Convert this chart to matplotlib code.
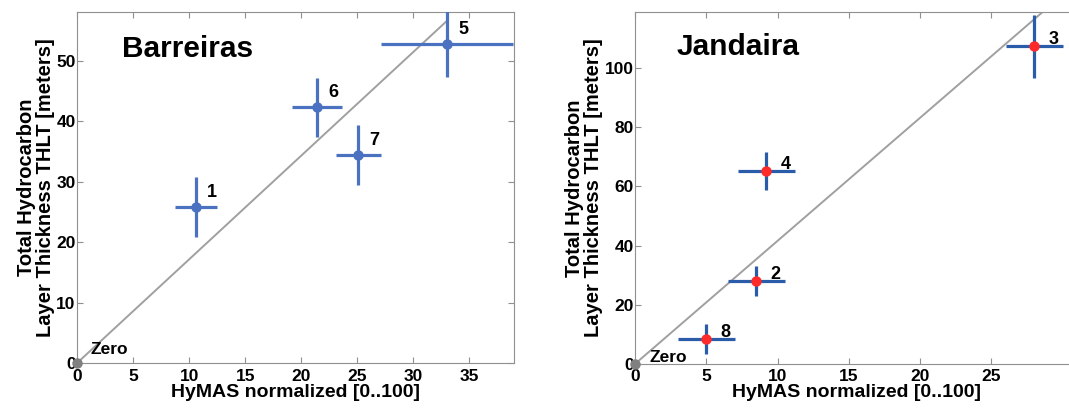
import matplotlib
matplotlib.use('Agg')
import matplotlib.pyplot as plt

plt.rcParams['font.family'] = ['Liberation Sans', 'DejaVu Sans']
plt.rcParams['font.weight'] = 'bold'

# Barreiras wells
bar_ids = ['1', '6', '7', '5']
bar_x = [10.6, 21.4, 25.1, 33.0]
bar_y = [25.8, 42.3, 34.4, 52.8]
bar_xerr = [1.9, 2.2, 2.0, 5.9]
bar_yerr = [5.0, 4.9, 5.0, 5.5]
bar_fit = ([0, 32.9], [0, 56.4])

# Jandaira wells
jan_ids = ['8', '2', '4', '3']
jan_x = [5.0, 8.5, 9.2, 28.0]
jan_y = [8.4, 28.1, 65.3, 107.3]
jan_xerr = [2.0, 2.0, 2.0, 2.0]
jan_yerr = [5.1, 5.0, 6.4, 10.7]
jan_fit = ([0, 28.6], [0, 119])

xlabel = 'HyMAS normalized [0..100]'
ylabel = 'Total Hydrocarbon\nLayer Thickness THLT [meters]'


def panel(ax, title, ids, x, y, xerr, yerr, fit, ecol, mcol, xlim, ylim, xticks, yticks,
          lab_d, zero_xy, title_xy):
    ax.plot(fit[0], fit[1], color='#a0a0a0', lw=1.4, zorder=1)
    ax.errorbar(x, y, xerr=xerr, yerr=yerr, fmt='o', color=mcol, ecolor=ecol,
                elinewidth=2.3, ms=6.5, capsize=0, zorder=3)
    for i, t in enumerate(ids):
        ax.text(x[i] + lab_d[0], y[i] + lab_d[1], t, fontsize=13, fontweight='bold',
                va='center')
    ax.plot([0], [0], 'o', color='#808080', ms=6.5, clip_on=False, zorder=4)
    ax.text(zero_xy[0], zero_xy[1], 'Zero', fontsize=12.5, fontweight='bold', va='center')
    ax.text(title_xy[0], title_xy[1], title, fontsize=21.5, fontweight='bold', va='center')
    ax.set_xlim(xlim)
    ax.set_ylim(ylim)
    ax.set_xticks(xticks)
    ax.set_yticks(yticks)
    ax.tick_params(direction='in', top=True, right=True, labelsize=12.5,
                   color='#909090', length=4)
    ax.tick_params(axis='x', pad=4)
    ax.tick_params(axis='y', pad=1)
    for s in ax.spines.values():
        s.set_color('#909090')
    ax.set_xlabel(xlabel, fontsize=14, fontweight='bold', labelpad=0)
    ax.set_ylabel(ylabel, fontsize=14.5, fontweight='bold', labelpad=1, linespacing=1.0)


fig = plt.figure(figsize=(10.69, 4.08), dpi=100)
ax1 = fig.add_axes([0.072, 0.110, 0.409, 0.860])
ax2 = fig.add_axes([0.594, 0.108, 0.4135, 0.863])

panel(ax1, 'Barreiras', bar_ids, bar_x, bar_y, bar_xerr, bar_yerr, bar_fit,
      '#4a72c0', '#4a72c0', (0, 39), (0, 58), range(0, 40, 5), range(0, 60, 10),
      (1.0, 2.4), (1.2, 2.2), (4.0, 52))
panel(ax2, 'Jandaira', jan_ids, jan_x, jan_y, jan_xerr, jan_yerr, jan_fit,
      '#2a5caa', '#ff2a2a', (0, 31), (0, 119), range(0, 30, 5), range(0, 120, 20),
      (1.0, 2.2), (1.05, 2.2), (2.9, 107))

fig.savefig('out.png', dpi=100)
